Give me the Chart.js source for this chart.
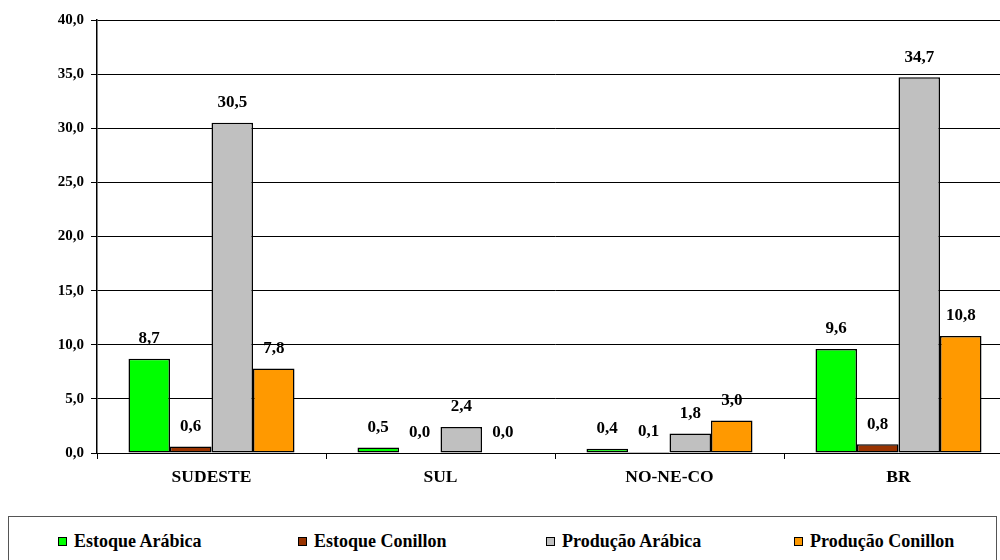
<!DOCTYPE html>
<html>
<head>
<meta charset="utf-8">
<script src="https://cdn.jsdelivr.net/npm/chart.js@4"></script>
<style>
  body { margin: 0; background: #fff; }
  #wrap { position: relative; width: 1000px; height: 560px; overflow: hidden; }
  #legend {
    position: absolute; left: 8px; top: 516px; width: 989px; height: 60px;
    border: 1px solid #555; box-sizing: border-box; background: #fff;
    font-family: "Liberation Serif", serif; font-weight: bold; font-size: 18px;
  }
  .item { position: absolute; top: 14px; white-space: nowrap; }
  .sw { display: inline-block; width: 7px; height: 7px; border: 1px solid #000; margin-right: 7px; vertical-align: 1px; }
</style>
</head>
<body>
<div id="wrap">
  <canvas id="mainChart" width="1016" height="560"></canvas>
  <div id="legend"></div>
</div>
<script>
var regioes = ['SUDESTE', 'SUL', 'NO-NE-CO', 'BR'];
var estoqueArabica = [8.7, 0.5, 0.4, 9.6];
var estoqueConillon = [0.6, 0.0, 0.1, 0.8];
var producaoArabica = [30.5, 2.4, 1.8, 34.7];
var producaoConillon = [7.8, 0.0, 3.0, 10.8];

var fonte = 'Liberation Serif';

function virgula(v) {
  return v.toFixed(1).replace('.', ',');
}

// valores em cima de cada barra
var rotulos = {
  id: 'rotulos',
  afterDatasetsDraw: function(chart) {
    var ctx = chart.ctx;
    ctx.save();
    ctx.font = 'bold 17px "' + fonte + '"';
    ctx.fillStyle = '#000';
    ctx.textAlign = 'center';
    ctx.textBaseline = 'middle';
    chart.data.datasets.forEach(function(ds, i) {
      chart.getDatasetMeta(i).data.forEach(function(bar, j) {
        ctx.fillText(virgula(ds.data[j]), bar.x, bar.y - 20);
      });
    });
    ctx.restore();
  }
};

var series = [
  { label: 'Estoque Arábica', cor: '#00ff00', data: estoqueArabica },
  { label: 'Estoque Conillon', cor: '#993300', data: estoqueConillon },
  { label: 'Produção Arábica', cor: '#c0c0c0', data: producaoArabica },
  { label: 'Produção Conillon', cor: '#ff9900', data: producaoConillon }
];

var chartdata = {
  labels: regioes,
  datasets: series.map(function(s) {
    return {
      label: s.label,
      backgroundColor: s.cor,
      borderColor: '#000',
      borderWidth: 1.5,
      borderSkipped: false,
      data: s.data
    };
  })
};

var myChart = new Chart(document.getElementById('mainChart'), {
  type: 'bar',
  data: chartdata,
  plugins: [rotulos],
  options: {
    responsive: false,
    animation: false,
    layout: { padding: { left: 0, top: 20, right: 3, bottom: 57 } },
    plugins: { legend: { display: false }, tooltip: { enabled: false } },
    datasets: { bar: { barPercentage: 1, categoryPercentage: 0.725 } },
    scales: {
      x: {
        afterFit: function(s) { s.height = 50; },
        grid: { drawOnChartArea: false, drawTicks: true, tickLength: 6, color: '#000' },
        border: { color: '#000', width: 1 },
        ticks: { color: '#000', font: { family: fonte, weight: 'bold', size: 17.5 }, padding: 8 }
      },
      y: {
        min: 0, max: 40,
        afterFit: function(s) { s.width = 97; },
        grid: { color: '#000', lineWidth: 1, tickLength: 6 },
        border: { color: '#000', width: 1.5 },
        ticks: {
          stepSize: 5, color: '#000', padding: 7,
          font: { family: fonte, weight: 'bold', size: 15 },
          callback: function(v) { return virgula(v); }
        }
      }
    }
  }
});

var posLegenda = [49, 289, 537, 785];
var leg = document.getElementById('legend');
series.forEach(function(s, i) {
  var d = document.createElement('div');
  d.className = 'item';
  d.style.left = posLegenda[i] + 'px';
  d.innerHTML = '<span class="sw" style="background:' + s.cor + '"></span>' + s.label;
  leg.appendChild(d);
});
</script>
</body>
</html>
